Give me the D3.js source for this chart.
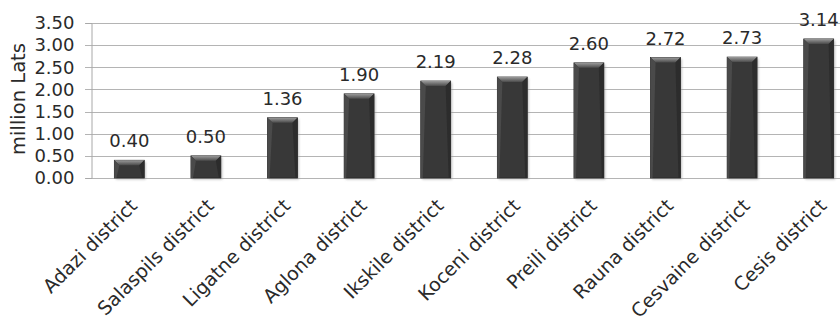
<!DOCTYPE html>
<html>
<head>
<meta charset="utf-8">
<script src="https://cdn.jsdelivr.net/npm/d3@7/dist/d3.min.js"></script>
<style>
  html, body { margin: 0; padding: 0; background: #fff; }
  svg { display: block; }
  text { font-family: "DejaVu Sans", Verdana, sans-serif; fill: #2a2a2a; }
</style>
</head>
<body>
<svg id="chart" width="840" height="320"></svg>
<script>
// Budget per district, million Lats
const districts = [
  "Adazi district", "Salaspils district", "Ligatne district", "Aglona district",
  "Ikskile district", "Koceni district", "Preili district", "Rauna district",
  "Cesvaine district", "Cesis district"
];
const amounts = [0.40, 0.50, 1.36, 1.90, 2.19, 2.28, 2.60, 2.72, 2.73, 3.14];
const yTicks = [0, 0.5, 1, 1.5, 2, 2.5, 3, 3.5];
const yTitle = "million Lats";

const svg = d3.select("#chart");
const plot = { left: 91, right: 857, top: 23, bottom: 178 };

const x = d3.scaleBand().domain(districts).range([plot.left, plot.right]).paddingInner(0.61).paddingOuter(0.305);
const y = d3.scaleLinear().domain([0, 3.5]).range([plot.bottom, plot.top]);

// bevel gradients
const defs = svg.append("defs");
const topGrad = defs.append("linearGradient").attr("id", "bevelTop").attr("x1", 0).attr("y1", 0).attr("x2", 0).attr("y2", 1);
topGrad.append("stop").attr("offset", "0%").attr("stop-color", "#9a9a9a");
topGrad.append("stop").attr("offset", "100%").attr("stop-color", "#4a4a4a");
const blur = defs.append("filter").attr("id", "shadow").attr("x", "-20%").attr("y", "-20%").attr("width", "140%").attr("height", "140%");
blur.append("feGaussianBlur").attr("stdDeviation", 1.2);

// gridlines
svg.append("g")
  .selectAll("line")
  .data(yTicks)
  .join("line")
  .attr("x1", plot.left - 6)
  .attr("x2", 840)
  .attr("y1", d => Math.round(y(d)) + 0.5)
  .attr("y2", d => Math.round(y(d)) + 0.5)
  .attr("stroke", "#b4b4b4")
  .attr("stroke-width", 1);

// y axis
const yAxis = d3.axisLeft(y).tickValues(yTicks).tickFormat(d3.format(".2f")).tickSize(6).tickPadding(11);
const gy = svg.append("g").attr("transform", `translate(${plot.left + 0.5},0)`).call(yAxis);
gy.select(".domain").attr("stroke", "#a8a8a8");
gy.selectAll(".tick line").remove();
gy.selectAll(".tick text").attr("font-size", 18).attr("fill", "#2a2a2a").attr("font-family", "DejaVu Sans, Verdana, sans-serif");

// y title
svg.append("text")
  .attr("transform", `translate(25,99) rotate(-90)`)
  .attr("text-anchor", "middle")
  .attr("font-size", 19.5)
  .text(yTitle);

// bars
const bars = svg.append("g")
  .selectAll("g")
  .data(districts.map((d, i) => ({ name: d, value: amounts[i] })))
  .join("g");

bars.append("rect")
  .attr("x", d => x(d.name) + 1.5)
  .attr("y", d => y(d.value) + 1.5)
  .attr("width", x.bandwidth())
  .attr("height", d => y(0) - y(d.value))
  .attr("fill", "#9a9a9a")
  .attr("opacity", 0.6)
  .attr("filter", "url(#shadow)");

bars.append("rect")
  .attr("x", d => x(d.name))
  .attr("y", d => y(d.value))
  .attr("width", x.bandwidth())
  .attr("height", d => y(0) - y(d.value))
  .attr("fill", "#383838")
  .attr("stroke", "#2a2a2a")
  .attr("stroke-width", 0.8);

// top chamfer
const b = 5;
bars.append("polygon")
  .attr("points", d => {
    const x0 = x(d.name), x1 = x0 + x.bandwidth(), y0 = y(d.value);
    return [[x0, y0], [x1, y0], [x1 - b, y0 + b], [x0 + b, y0 + b]].map(p => p.join(",")).join(" ");
  })
  .attr("fill", "url(#bevelTop)");

// side edges
bars.append("polygon")
  .attr("points", d => {
    const x0 = x(d.name), y0 = y(d.value), y1 = y(0);
    return [[x0, y0], [x0 + b, y0 + b], [x0 + 2, y1], [x0, y1]].map(p => p.join(",")).join(" ");
  })
  .attr("fill", "#4a4a4a");
bars.append("polygon")
  .attr("points", d => {
    const x1 = x(d.name) + x.bandwidth(), y0 = y(d.value), y1 = y(0);
    return [[x1, y0], [x1 - b, y0 + b], [x1 - 2, y1], [x1, y1]].map(p => p.join(",")).join(" ");
  })
  .attr("fill", "#2c2c2c");

// value labels
bars.append("text")
  .attr("x", d => x(d.name) + x.bandwidth() / 2)
  .attr("y", d => y(d.value) - 13)
  .attr("text-anchor", "middle")
  .attr("font-size", 18)
  .text(d => d3.format(".2f")(d.value));

// category labels
svg.append("g")
  .selectAll("text")
  .data(districts)
  .join("text")
  .attr("transform", d => `translate(${x(d) + x.bandwidth() / 2 + 9},${plot.bottom + 29}) rotate(-45)`)
  .attr("text-anchor", "end")
  .attr("font-size", 19)
  .text(d => d);
</script>
</body>
</html>
